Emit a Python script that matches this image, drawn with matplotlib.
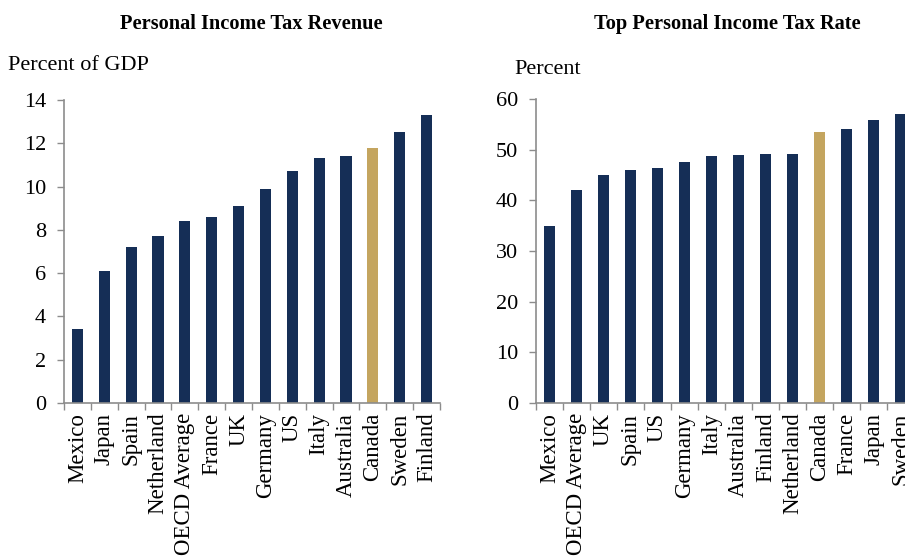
import matplotlib
matplotlib.use("Agg")
import matplotlib.pyplot as plt
import numpy as np

plt.rcParams['font.family'] = ['Liberation Serif', 'DejaVu Serif']

rev_countries = ["Mexico", "Japan", "Spain", "Netherland", "OECD Average", "France", "UK",
                 "Germany", "US", "Italy", "Australia", "Canada", "Sweden", "Finland"]
rev_values = [3.4, 6.1, 7.2, 7.7, 8.4, 8.6, 9.1, 9.9, 10.7, 11.3, 11.4, 11.8, 12.5, 13.3]

rate_countries = ["Mexico", "OECD Average", "UK", "Spain", "US", "Germany", "Italy",
                  "Australia", "Finland", "Netherland", "Canada", "France", "Japan", "Sweden"]
rate_values = [35.0, 42.0, 45.0, 46.0, 46.3, 47.5, 48.8, 49.0, 49.1, 49.2, 53.5, 54.0, 55.8, 57.0]

NAVY = "#152E56"
GOLD = "#C4A55F"
SPINE = "#8C8C8C"

fig = plt.figure(figsize=(9.05, 5.56), dpi=100)
W, H = 905, 556

def make_ax(left_px, right_px, top_px, bottom_px):
    return fig.add_axes([left_px / W, (H - bottom_px) / H,
                         (right_px - left_px) / W, (bottom_px - top_px) / H])

def style(ax, cats, vals, ymax, ystep, title, ylabel, title_x, ylabel_x, ylabel_y):
    x = np.arange(len(cats))
    colors = [GOLD if c == "Canada" else NAVY for c in cats]
    ax.bar(x, vals, width=0.42, color=colors)
    ax.set_xlim(-0.5, len(cats) - 0.5)
    ax.set_ylim(0, ymax)
    ax.set_yticks(np.arange(0, ymax + 0.1, ystep))
    ax.set_xticks(x)
    ax.set_xticklabels(cats, rotation=90, fontsize=16.5, va="top")
    ax.set_xticks(np.arange(-0.5, len(cats), 1.0), minor=True)
    ax.tick_params(axis="x", which="major", length=0, pad=7)
    ax.tick_params(axis="x", which="minor", length=5, color=SPINE, width=1)
    ax.tick_params(axis="y", length=5, color=SPINE, width=1, labelsize=16, pad=8)
    for s in ["top", "right"]:
        ax.spines[s].set_visible(False)
    for s in ["left", "bottom"]:
        ax.spines[s].set_color(SPINE)
        ax.spines[s].set_linewidth(1.2)
    fig.text(title_x / W, 1 - 24 / H, title, ha="center", va="center",
             fontsize=14.7, fontweight="bold")
    fig.text(ylabel_x / W, 1 - ylabel_y / H, ylabel, ha="left", va="center", fontsize=16)

ax1 = make_ax(64, 440, 100, 403)
style(ax1, rev_countries, rev_values, 14, 2, "Personal Income Tax Revenue",
      "Percent of GDP", 251, 8, 66)

ax2 = make_ax(536, 914, 99, 403)
style(ax2, rate_countries, rate_values, 60, 10, "Top Personal Income Tax Rate",
      "Percent", 727, 514, 69)

fig.savefig("out.png", dpi=100)
